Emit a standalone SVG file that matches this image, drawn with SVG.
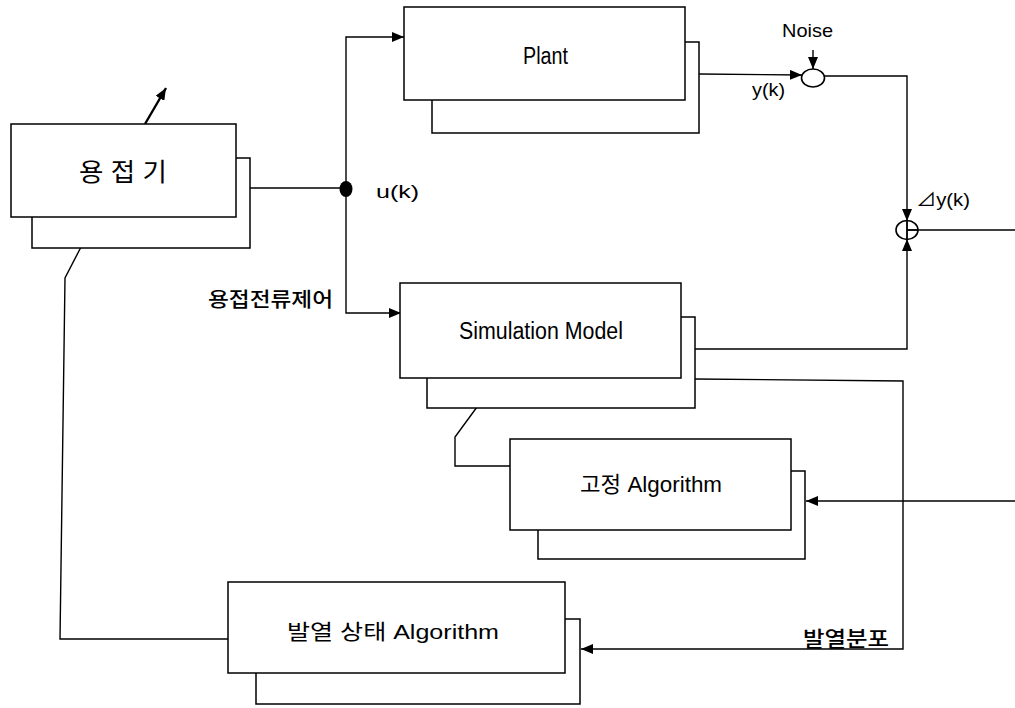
<svg xmlns="http://www.w3.org/2000/svg" width="1015" height="708" viewBox="0 0 1015 708">
<style>
.box{fill:#fff;stroke:#000;stroke-width:1.5}
.ln{fill:none;stroke:#000;stroke-width:1.4}
.t{font-family:"Liberation Sans","Noto Sans CJK KR",sans-serif;fill:#000}
.k{font-family:"Noto Sans CJK KR",sans-serif;font-weight:500;fill:#000}
</style>
<defs>
<marker id="ah" viewBox="0 0 12 10" refX="12" refY="5" markerWidth="12" markerHeight="10" markerUnits="userSpaceOnUse" orient="auto">
<path d="M0,0 L12,5 L0,10 Z" fill="#000"/>
</marker>
</defs>
<rect width="1015" height="708" fill="#fff"/>

<g id="connectors">
<path d="M145,124 L166,88" fill="none" stroke="#000" stroke-width="2.4" marker-end="url(#ah)"/>
<path class="ln" d="M250,188 L346,188"/>
<path class="ln" d="M346,188 L346,37 L404,37" marker-end="url(#ah)"/>
<path class="ln" d="M346,188 L346,313 L401,313" marker-end="url(#ah)"/>
<path class="ln" d="M699,74 L802,75" marker-end="url(#ah)"/>
<path class="ln" d="M813,50 L813,69" marker-end="url(#ah)"/>
<path class="ln" d="M824,76 L907,76 L907,221" marker-end="url(#ah)"/>
<path class="ln" d="M695,349 L907,349 L907,239" marker-end="url(#ah)"/>
<path class="ln" d="M907,221 L907,239"/>
<path class="ln" d="M907,230 L1015,230"/>
<path class="ln" d="M695,379 L903,381 L903,649 L581,649" marker-end="url(#ah)"/>
<path class="ln" d="M1015,501 L806,501" marker-end="url(#ah)"/>
<path class="ln" d="M81,247 L65,278 L60,639 L228,639"/>
<path class="ln" d="M477,407 L455,437 L455,466 L510,466"/>
<ellipse cx="346" cy="189" rx="6.5" ry="8" fill="#000"/>
</g>

<g id="welder">
<rect class="box" x="32" y="158" width="218" height="90"/>
<rect class="box" x="11" y="124" width="225" height="93"/>
<text class="t" x="123" y="181" font-size="25" text-anchor="middle" textLength="88" lengthAdjust="spacingAndGlyphs">용 접 기</text>
</g>

<g id="plant">
<rect class="box" x="432" y="42" width="267" height="91"/>
<rect class="box" x="404" y="7" width="281" height="93"/>
<text class="t" x="523" y="64" font-size="23" textLength="45" lengthAdjust="spacingAndGlyphs">Plant</text>
</g>

<g id="noise-junction">
<ellipse cx="813" cy="78" rx="11.5" ry="9" fill="#fff" stroke="#000" stroke-width="1.6"/>
<text class="t" x="782" y="37" font-size="19" textLength="51" lengthAdjust="spacingAndGlyphs">Noise</text>
</g>

<g id="error-junction">
<ellipse cx="907" cy="230" rx="11" ry="9.5" fill="none" stroke="#000" stroke-width="1.6"/>
<path class="ln" d="M907,220 L907,240 M907,230 L918,230"/>
<text class="t" x="916" y="206" font-size="18" textLength="54" lengthAdjust="spacingAndGlyphs">⊿y(k)</text>
</g>

<g id="simulation-model">
<rect class="box" x="427" y="317" width="268" height="91"/>
<rect class="box" x="400" y="283" width="281" height="95"/>
<text class="t" x="459" y="339" font-size="23" textLength="164" lengthAdjust="spacingAndGlyphs">Simulation  Model</text>
</g>

<g id="fixed-algorithm">
<rect class="box" x="538" y="471" width="267" height="88"/>
<rect class="box" x="510" y="439" width="281" height="91"/>
<text class="t" x="580" y="492" font-size="22" textLength="142" lengthAdjust="spacingAndGlyphs">고정 Algorithm</text>
</g>

<g id="heat-algorithm">
<rect class="box" x="256" y="619" width="324" height="85"/>
<rect class="box" x="228" y="582" width="337" height="91"/>
<text class="t" x="287" y="639" font-size="21" textLength="212" lengthAdjust="spacingAndGlyphs">발열 상태 Algorithm</text>
</g>

<g id="labels">
<text class="t" x="752" y="96" font-size="18" textLength="33" lengthAdjust="spacingAndGlyphs">y(k)</text>
<text class="t" x="376" y="198" font-size="18" textLength="43" lengthAdjust="spacingAndGlyphs">u(k)</text>
<text class="k" x="208" y="307" font-size="20" textLength="125" lengthAdjust="spacingAndGlyphs">용접전류제어</text>
<text class="k" x="803" y="646" font-size="21" textLength="86" lengthAdjust="spacingAndGlyphs">발열분포</text>
</g>
</svg>
